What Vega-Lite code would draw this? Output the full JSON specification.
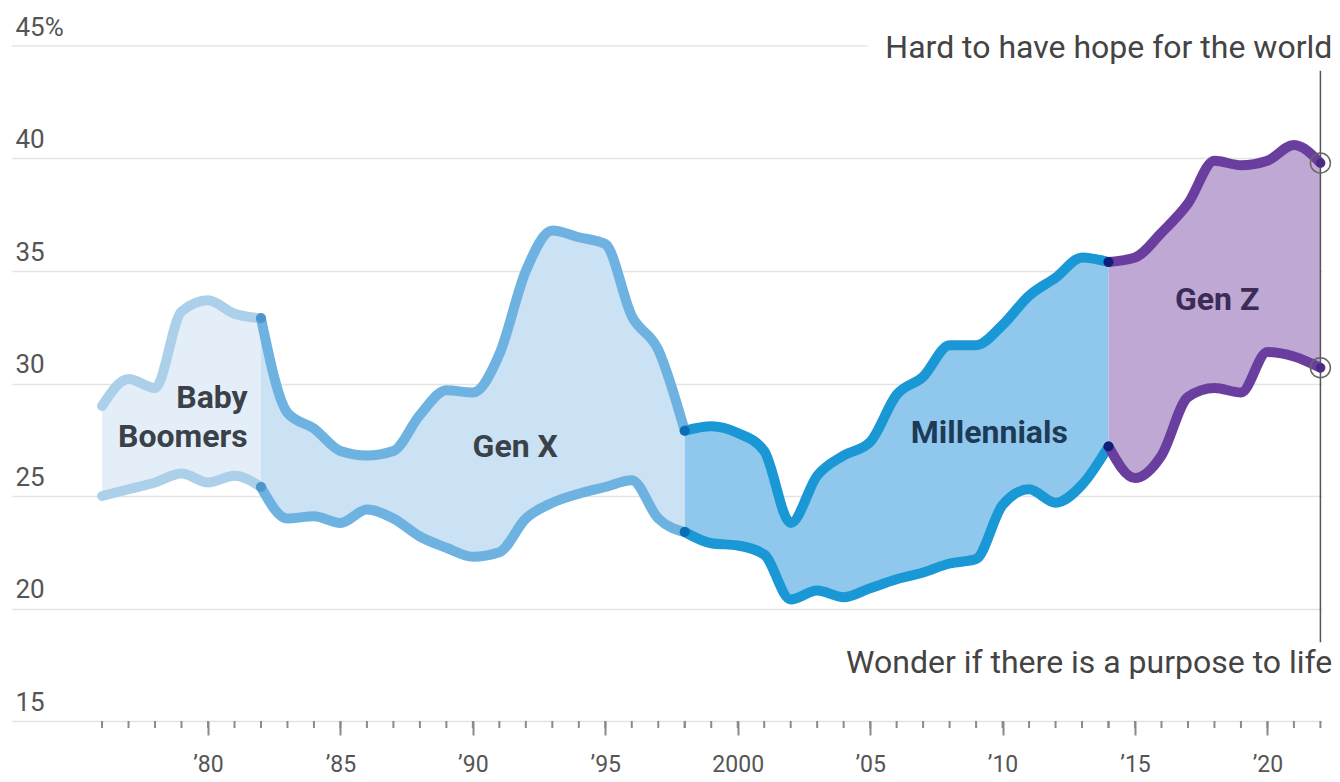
{
  "$schema": "https://vega.github.io/schema/vega-lite/v6.json",
  "width": 1310,
  "height": 675,
  "autosize": {"type": "none"},
  "padding": {"left": 12, "top": 46, "right": 18, "bottom": 61},
  "background": "white",
  "config": {"view": {"stroke": null}, "font": "Roboto"},
  "datasets": {
    "gens": [
      {"gen": "Baby Boomers", "year": 1976, "hope": 29.0, "purpose": 25.0},
      {"gen": "Baby Boomers", "year": 1977, "hope": 30.2, "purpose": 25.3},
      {"gen": "Baby Boomers", "year": 1978, "hope": 29.8, "purpose": 25.6},
      {"gen": "Baby Boomers", "year": 1979, "hope": 33.2, "purpose": 26.0},
      {"gen": "Baby Boomers", "year": 1980, "hope": 33.7, "purpose": 25.6},
      {"gen": "Baby Boomers", "year": 1981, "hope": 33.1, "purpose": 25.9},
      {"gen": "Baby Boomers", "year": 1982, "hope": 32.9, "purpose": 25.4},
      {"gen": "Gen X", "year": 1982, "hope": 32.9, "purpose": 25.4},
      {"gen": "Gen X", "year": 1983, "hope": 28.7, "purpose": 24.0},
      {"gen": "Gen X", "year": 1984, "hope": 28.0, "purpose": 24.1},
      {"gen": "Gen X", "year": 1985, "hope": 27.0, "purpose": 23.8},
      {"gen": "Gen X", "year": 1986, "hope": 26.8, "purpose": 24.4},
      {"gen": "Gen X", "year": 1987, "hope": 27.0, "purpose": 24.0},
      {"gen": "Gen X", "year": 1988, "hope": 28.6, "purpose": 23.2},
      {"gen": "Gen X", "year": 1989, "hope": 29.7, "purpose": 22.7},
      {"gen": "Gen X", "year": 1990, "hope": 29.6, "purpose": 22.3},
      {"gen": "Gen X", "year": 1991, "hope": 31.3, "purpose": 22.5},
      {"gen": "Gen X", "year": 1992, "hope": 35.0, "purpose": 24.0},
      {"gen": "Gen X", "year": 1993, "hope": 36.8, "purpose": 24.7},
      {"gen": "Gen X", "year": 1994, "hope": 36.5, "purpose": 25.1},
      {"gen": "Gen X", "year": 1995, "hope": 36.2, "purpose": 25.4},
      {"gen": "Gen X", "year": 1996, "hope": 33.0, "purpose": 25.7},
      {"gen": "Gen X", "year": 1997, "hope": 31.5, "purpose": 24.0},
      {"gen": "Gen X", "year": 1998, "hope": 27.9, "purpose": 23.4},
      {"gen": "Millennials", "year": 1998, "hope": 27.9, "purpose": 23.4},
      {"gen": "Millennials", "year": 1999, "hope": 28.1, "purpose": 22.9},
      {"gen": "Millennials", "year": 2000, "hope": 27.8, "purpose": 22.8},
      {"gen": "Millennials", "year": 2001, "hope": 27.0, "purpose": 22.4},
      {"gen": "Millennials", "year": 2002, "hope": 23.8, "purpose": 20.4},
      {"gen": "Millennials", "year": 2003, "hope": 25.9, "purpose": 20.8},
      {"gen": "Millennials", "year": 2004, "hope": 26.8, "purpose": 20.5},
      {"gen": "Millennials", "year": 2005, "hope": 27.4, "purpose": 20.9},
      {"gen": "Millennials", "year": 2006, "hope": 29.5, "purpose": 21.3},
      {"gen": "Millennials", "year": 2007, "hope": 30.3, "purpose": 21.6},
      {"gen": "Millennials", "year": 2008, "hope": 31.7, "purpose": 22.0},
      {"gen": "Millennials", "year": 2009, "hope": 31.7, "purpose": 22.2},
      {"gen": "Millennials", "year": 2010, "hope": 32.6, "purpose": 24.6},
      {"gen": "Millennials", "year": 2011, "hope": 33.9, "purpose": 25.3},
      {"gen": "Millennials", "year": 2012, "hope": 34.7, "purpose": 24.7},
      {"gen": "Millennials", "year": 2013, "hope": 35.6, "purpose": 25.5},
      {"gen": "Millennials", "year": 2014, "hope": 35.4, "purpose": 27.2},
      {"gen": "Gen Z", "year": 2014, "hope": 35.4, "purpose": 27.2},
      {"gen": "Gen Z", "year": 2015, "hope": 35.6, "purpose": 25.8},
      {"gen": "Gen Z", "year": 2016, "hope": 36.7, "purpose": 26.8},
      {"gen": "Gen Z", "year": 2017, "hope": 38.0, "purpose": 29.4},
      {"gen": "Gen Z", "year": 2018, "hope": 39.9, "purpose": 29.8},
      {"gen": "Gen Z", "year": 2019, "hope": 39.7, "purpose": 29.6},
      {"gen": "Gen Z", "year": 2020, "hope": 39.9, "purpose": 31.4},
      {"gen": "Gen Z", "year": 2021, "hope": 40.6, "purpose": 31.2},
      {"gen": "Gen Z", "year": 2022, "hope": 39.8, "purpose": 30.7}
    ]
  },
  "layer": [
    {
      "data": {"name": "gens"},
      "mark": {"type": "area", "interpolate": "monotone"},
      "encoding": {
        "x": {
          "field": "year", "type": "quantitative",
          "scale": {"domain": [1972.6, 2022.06], "nice": false, "zero": false},
          "axis": {
            "title": null,
            "values": [1980, 1985, 1990, 1995, 2000, 2005, 2010, 2015, 2020],
            "domain": false,
            "grid": false,
            "tickColor": "#8a8a8a",
            "tickWidth": 2,
            "tickSize": 14,
            "labelExpr": "datum.value === 2000 ? '2000' : '’' + substring(toString(datum.value), 2)",
            "labelPadding": 18,
            "labelFontSize": 23,
            "labelColor": "#555555",
            "labelOverlap": false,
            "labelFlush": false,
            "labelBound": false
          }
        },
        "y": {
          "field": "hope", "type": "quantitative",
          "scale": {"domain": [15, 45], "nice": false, "zero": false},
          "axis": {
            "title": null,
            "values": [15, 20, 25, 30, 35, 40, 45],
            "domain": false,
            "ticks": false,
            "tickSize": 0,
            "grid": true,
            "gridColor": "#e4e4e4",
            "gridWidth": 1.5,
            "gridOpacity": {"condition": {"test": "datum.value === 45", "value": 0}, "value": 1},
            "labelAlign": "left",
            "labelBaseline": "alphabetic",
            "labelPadding": -3,
            "labelOffset": -11,
            "labelFontSize": 26,
            "labelColor": "#555555",
            "labelExpr": "datum.value === 45 ? '45%' : datum.label"
          }
        },
        "y2": {"field": "purpose"},
        "fill": {
          "field": "gen", "type": "nominal", "legend": null,
          "scale": {"domain": ["Baby Boomers", "Gen X", "Millennials", "Gen Z"], "range": ["#e4eef9", "#cbe1f4", "#8fc8ec", "#c0a8d4"]}
        }
      }
    },
    {
      "data": {"values": [{}]},
      "mark": {"type": "rule", "color": "#e4e4e4", "strokeWidth": 1.5},
      "encoding": {
        "x": {"datum": 1972.6},
        "x2": {"datum": 2004.9},
        "y": {"datum": 45}
      }
    },
    {
      "data": {"name": "gens"},
      "mark": {"type": "tick", "orient": "vertical", "color": "#8a8a8a", "thickness": 2, "size": 7, "yOffset": 3.5, "opacity": 1},
      "encoding": {
        "x": {"field": "year", "type": "quantitative"},
        "y": {"datum": 15}
      }
    },
    {
      "data": {"name": "gens"},
      "mark": {"type": "line", "interpolate": "monotone", "strokeWidth": 10, "strokeCap": "round", "strokeJoin": "round"},
      "encoding": {
        "x": {"field": "year", "type": "quantitative"},
        "y": {"field": "hope", "type": "quantitative"},
        "stroke": {
          "field": "gen", "type": "nominal", "legend": null,
          "scale": {"domain": ["Baby Boomers", "Gen X", "Millennials", "Gen Z"], "range": ["#acd0ea", "#6db2e0", "#1a98d5", "#6a3e9f"]}
        }
      }
    },
    {
      "data": {"name": "gens"},
      "mark": {"type": "line", "interpolate": "monotone", "strokeWidth": 10, "strokeCap": "round", "strokeJoin": "round"},
      "encoding": {
        "x": {"field": "year", "type": "quantitative"},
        "y": {"field": "purpose", "type": "quantitative"},
        "stroke": {"field": "gen", "type": "nominal", "legend": null}
      }
    },
    {
      "data": {"name": "gens"},
      "transform": [
        {"filter": "(datum.year === 1982 && datum.gen === 'Gen X') || (datum.year === 1998 && datum.gen === 'Millennials') || (datum.year === 2014 && datum.gen === 'Gen Z')"},
        {"fold": ["hope", "purpose"], "as": ["measure", "pct"]}
      ],
      "mark": {"type": "point", "filled": true, "opacity": 1, "size": 100},
      "encoding": {
        "x": {"field": "year", "type": "quantitative"},
        "y": {"field": "pct", "type": "quantitative"},
        "color": {
          "field": "gen", "type": "nominal", "legend": null,
          "scale": {"domain": ["Gen X", "Millennials", "Gen Z"], "range": ["#4c96cd", "#0b6db3", "#0d1f78"]}
        }
      }
    },
    {
      "data": {"values": [{}]},
      "mark": {"type": "rule", "color": "#555555", "strokeWidth": 1.5},
      "encoding": {
        "x": {"datum": 2022},
        "y": {"datum": 43.9},
        "y2": {"datum": 18.5}
      }
    },
    {
      "data": {"name": "gens"},
      "transform": [
        {"filter": "datum.year === 2022"},
        {"fold": ["hope", "purpose"], "as": ["measure", "pct"]}
      ],
      "mark": {"type": "point", "filled": true, "opacity": 1, "size": 80, "color": "#4b2a82"},
      "encoding": {
        "x": {"field": "year", "type": "quantitative"},
        "y": {"field": "pct", "type": "quantitative"}
      }
    },
    {
      "data": {"name": "gens"},
      "transform": [
        {"filter": "datum.year === 2022"},
        {"fold": ["hope", "purpose"], "as": ["measure", "pct"]}
      ],
      "mark": {"type": "point", "filled": false, "opacity": 1, "size": 400, "stroke": "#666666", "strokeWidth": 1.5},
      "encoding": {
        "x": {"field": "year", "type": "quantitative"},
        "y": {"field": "pct", "type": "quantitative"}
      }
    },
    {
      "data": {"values": [{}]},
      "mark": {"type": "text", "align": "right", "baseline": "middle", "fontSize": 32, "color": "#444444", "text": "Hard to have hope for the world"},
      "encoding": {"x": {"datum": 2022.45}, "y": {"datum": 44.9}}
    },
    {
      "data": {"values": [{}]},
      "mark": {"type": "text", "align": "right", "baseline": "middle", "fontSize": 32, "color": "#444444", "text": "Wonder if there is a purpose to life"},
      "encoding": {"x": {"datum": 2022.45}, "y": {"datum": 17.6}}
    },
    {
      "data": {"values": [{}]},
      "mark": {"type": "text", "align": "right", "baseline": "middle", "fontSize": 32, "fontWeight": "bold", "color": "#3a4148", "text": "Baby\nBoomers", "lineBreak": "\n", "lineHeight": 39},
      "encoding": {"x": {"datum": 1981.5}, "y": {"datum": 29.36}}
    },
    {
      "data": {"values": [{}]},
      "mark": {"type": "text", "align": "center", "baseline": "middle", "fontSize": 32, "fontWeight": "bold", "color": "#3a4148", "text": "Gen X"},
      "encoding": {"x": {"datum": 1991.6}, "y": {"datum": 27.2}}
    },
    {
      "data": {"values": [{}]},
      "mark": {"type": "text", "align": "center", "baseline": "middle", "fontSize": 32, "fontWeight": "bold", "color": "#1d3a57", "text": "Millennials"},
      "encoding": {"x": {"datum": 2009.5}, "y": {"datum": 27.8}}
    },
    {
      "data": {"values": [{}]},
      "mark": {"type": "text", "align": "center", "baseline": "middle", "fontSize": 32, "fontWeight": "bold", "color": "#3d2b57", "text": "Gen Z"},
      "encoding": {"x": {"datum": 2018.1}, "y": {"datum": 33.7}}
    }
  ]
}
